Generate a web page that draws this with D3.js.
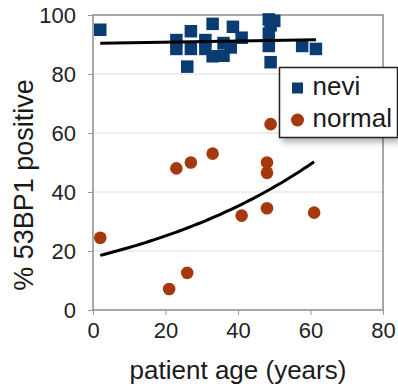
<!DOCTYPE html>
<html>
<head>
<meta charset="utf-8">
<script src="https://cdn.jsdelivr.net/npm/d3@7"></script>
<style>
  body { margin: 0; background: #fff; }
  svg text { font-family: "Liberation Sans", Arial, sans-serif; fill: #1a1a1a; }
</style>
</head>
<body>
<div id="chart"></div>
<script>
// nevi samples (age in years, % 53BP1 positive)
var neviAge = [2, 23, 23, 26, 27, 27, 31, 31, 33, 33, 36, 36, 38, 38.6, 41, 48.5, 50, 49, 48.5, 48.5, 49, 57.7, 61.5];
var neviVal = [95, 91.5, 88.5, 82.5, 94.5, 88.5, 91.5, 88.5, 97, 86, 90.5, 86.2, 89, 96, 92.3, 98.5, 98, 96.5, 93.7, 89.5, 84, 89.5, 88.5];

// normal skin samples
var normalAge = [2, 23, 27, 33, 49, 48, 48, 41, 48, 61, 26, 21];
var normalVal = [24.5, 48, 50, 53, 63, 50, 46.5, 32, 34.5, 33, 12.6, 7.1];

var xTicks = [0, 20, 40, 60, 80];
var yTicks = [0, 20, 40, 60, 80, 100];
var seriesNames = ["nevi", "normal"];
var seriesColors = ["#0b3b73", "#a5380d"];

var W = 398, H = 391;
var plot = {left: 93, right: 383, top: 15, bottom: 310};

var svg = d3.select("#chart").append("svg")
    .attr("width", W)
    .attr("height", H);

var defs = svg.append("defs");
var shadow = defs.append("filter").attr("id", "shadow")
    .attr("x", "-20%").attr("y", "-20%").attr("width", "150%").attr("height", "160%");
shadow.append("feDropShadow")
    .attr("dx", 3).attr("dy", 4).attr("stdDeviation", 3)
    .attr("flood-color", "#000").attr("flood-opacity", 0.3);

var x = d3.scaleLinear().domain([0, 80]).range([plot.left, plot.right]);
var y = d3.scaleLinear().domain([0, 100]).range([plot.bottom, plot.top]);

// gridlines
svg.append("g")
    .selectAll("line")
    .data(yTicks.slice(1, -1))
    .enter().append("line")
    .attr("x1", plot.left).attr("x2", plot.right)
    .attr("y1", function(d) { return y(d); })
    .attr("y2", function(d) { return y(d); })
    .attr("stroke", "#dcdcdc")
    .attr("stroke-width", 1);

// axes
var xAxis = svg.append("g")
    .attr("transform", "translate(0," + plot.bottom + ")")
    .call(d3.axisBottom(x).tickValues(xTicks).tickSize(5).tickPadding(6));
var yAxis = svg.append("g")
    .attr("transform", "translate(" + plot.left + ",0)")
    .call(d3.axisLeft(y).tickValues(yTicks).tickSize(5).tickPadding(12));

[xAxis, yAxis].forEach(function(a) {
  a.select(".domain").remove();
  a.selectAll(".tick line").attr("stroke", "#999").attr("stroke-width", 1);
  a.selectAll(".tick text")
      .attr("font-size", 22)
      .style("fill", "#222");
});
xAxis.selectAll(".tick text").attr("dy", "0.75em");

// plot frame
svg.append("rect")
    .attr("x", plot.left).attr("y", plot.top)
    .attr("width", plot.right - plot.left)
    .attr("height", plot.bottom - plot.top)
    .attr("fill", "none")
    .attr("stroke", "#8c8c8c")
    .attr("stroke-width", 1.5);

// nevi squares
var sq = 12.5;
svg.append("g")
    .selectAll("rect")
    .data(d3.range(neviAge.length))
    .enter().append("rect")
    .attr("x", function(i) { return x(neviAge[i]) - sq / 2; })
    .attr("y", function(i) { return y(neviVal[i]) - sq / 2; })
    .attr("width", sq).attr("height", sq)
    .attr("fill", seriesColors[0]);

// normal circles
svg.append("g")
    .selectAll("circle")
    .data(d3.range(normalAge.length))
    .enter().append("circle")
    .attr("cx", function(i) { return x(normalAge[i]); })
    .attr("cy", function(i) { return y(normalVal[i]); })
    .attr("r", 6.3)
    .attr("fill", seriesColors[1]);

// linear trend for nevi (least squares)
function linFit(xs, ys) {
  var mx = d3.mean(xs), my = d3.mean(ys);
  var sxy = d3.sum(xs, function(v, i) { return (v - mx) * (ys[i] - my); });
  var sxx = d3.sum(xs, function(v) { return (v - mx) * (v - mx); });
  var b = sxy / sxx;
  return {a: my - b * mx, b: b};
}
var nf = linFit(neviAge, neviVal);
var nx = d3.extent(neviAge);
var line = d3.line().x(function(d) { return x(d[0]); }).y(function(d) { return y(d[1]); });
svg.append("path")
    .attr("d", line(nx.map(function(v) { return [v, nf.a + nf.b * v]; })))
    .attr("fill", "none").attr("stroke", "#000").attr("stroke-width", 3);

// exponential trend for normal (fit on log values)
var ef = linFit(normalAge, normalVal.map(Math.log));
var ex = d3.extent(normalAge);
var curvePts = d3.range(ex[0], ex[1] + 0.01, 1).map(function(v) {
  return [v, Math.exp(ef.a + ef.b * v)];
});
svg.append("path")
    .attr("d", line(curvePts))
    .attr("fill", "none").attr("stroke", "#000").attr("stroke-width", 3);

// axis titles
svg.append("text")
    .attr("x", (plot.left + plot.right) / 2)
    .attr("y", 379)
    .attr("text-anchor", "middle")
    .attr("font-size", 26)
    .text("patient age (years)");

svg.append("text")
    .attr("transform", "translate(33,185) rotate(-90)")
    .attr("text-anchor", "middle")
    .attr("font-size", 27)
    .text("% 53BP1 positive");

// legend
var lg = svg.append("g").attr("transform", "translate(279.5,67.5)");
lg.append("rect")
    .attr("width", 118).attr("height", 70)
    .attr("fill", "#fff")
    .attr("stroke", "#222").attr("stroke-width", 1.5)
    .attr("filter", "url(#shadow)");
lg.append("rect")
    .attr("x", 12.5).attr("y", 15)
    .attr("width", 11).attr("height", 11)
    .attr("fill", seriesColors[0]);
lg.append("circle")
    .attr("cx", 18).attr("cy", 52.5).attr("r", 6.5)
    .attr("fill", seriesColors[1]);
lg.selectAll("text.lab")
    .data(seriesNames)
    .enter().append("text")
    .attr("class", "lab")
    .attr("x", 33)
    .attr("y", function(d, i) { return 27.5 + i * 31.5; })
    .attr("font-size", 26)
    .text(function(d) { return d; });
</script>
</body>
</html>
